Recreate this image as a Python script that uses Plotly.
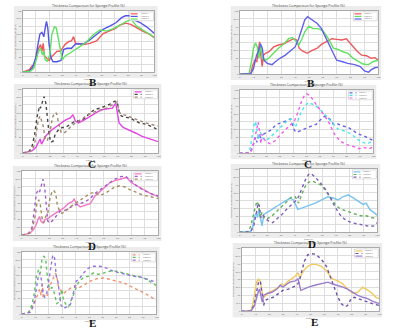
import plotly.graph_objects as go

W, H = 407, 330

# ---------------- DATA (x: % of time axis, y: % of thickness axis) ----------------
# Row B, left
bl_red_x = [0,5,7,8.5,10.5,12,13.5,14.5,15.5,16.5,18,20,21,23.5,26,28.6,32,35,37,38.6,40,42,46,51,56,61,66,70,74,78,82,86,91,96,100]
bl_red_y = [0,4,10,12,28,39,45,34,47,26,23,19,23,28,34,34,45,50,51,58,47,47,45,47,51,63,68,71,77,80,78,73,67,62,56]
bl_blue_x = [0,4.8,7.3,9.8,11.5,13,14.5,16,17,18,19,20,21.5,23,26,29,31,33.6,37,40,43.6,47,51,56,61,66,71,75,78,81,85,89,94,100]
bl_blue_y = [0,1.6,7,23,45,62,65,58,72,83,72,45,23,17,17,19,37,39,39,46,46,47,53,61,70,75,81,89,92,92,85,81,74,63]
bl_green_x = [0,6,8.5,10.5,12,13.5,15,16,17,18.5,20.5,22,24,25.5,27,28.5,30,32,36,40,43.6,48.6,53.6,58.6,63.7,68.7,74,78,82.5,86,91,96,100]
bl_green_y = [0,1.6,7,23,34,39,28,34,20,18,28,61,74,72,55,37,20,26,31,37,42,50,61,69,67,71,77,82,86,76,69,62,57]

# Row B, right
br_red_x = [0,8,9.6,11,12.4,13.4,14.4,15.3,16.3,17.2,18.7,21,24.6,28,32,35.4,39,41,43,45,48.6,52,56,59,63,66.5,70,73.7,77,81,84.4,88,91.6,95,97.6,100]
br_red_y = [0,1,15,22,20,41,51,30,12,30,33,35,43,46,48,52,56,54,41,37,33,37,41,47,52,56,55,54,56,46,37,30,29,25,26,22]
br_green_x = [0,6.7,8.6,10,11.5,12.7,13.9,15,16.3,18.7,21,24.6,28,32,35.4,38,40.7,42.6,45,47,50,53,56.6,60,64,67.7,71,75,78,82,85.6,89,93,96.4,100]
br_green_y = [0,0.5,20,41,49,43,25,46,25,22,25,33,41,48,56,58,52,46,56,67,76,72,72,69,56,41,39,35,33,25,20,16,15,20,22]
br_blue_x = [0,8,10,12.2,13.9,15,16.3,17.5,19.9,23.4,26,29,33,36.6,40,42.6,45,47,49,52,56,59,63,66.5,70,73.7,78,83,87,90,93,95,97.6,100]
br_blue_y = [0,0.5,9,30,38,48,41,22,17,15,20,25,30,36,43,56,72,86,91,86,80,72,54,38,22,20,17,15,12,5,3,7,10,11]

# Row C, left
cl_mag_x = [0,3.6,7,9.7,11.4,12.8,13.8,15.3,17,20.6,24,27.8,31,35,37,38.7,41,44.8,48.4,52,55.7,59,63,66,68.5,69.5,71,74,78.7,83.5,88,93,98,100]
cl_mag_y = [0,1.5,4,9,17,22,14,20,27,35,40,45,51,55,60,50,47,51,56,61,65,68,69,70,78,65,47,40,36,31,26,22,19,18]
cl_dark_x = [0,4.8,7,8.8,10.4,11.4,12.3,13,14.5,15.7,17,18,19.4,20.6,22.5,24,26.6,29,31.5,35,38.7,42.4,46,49.6,53,56.9,60.5,64,67.8,69.5,71,72.6,75,78.7,82.3,86,90.8,95.6,100]
cl_dark_y = [0,3,12,30,55,68,73,70,81,88,78,55,30,17,19,30,37,40,40,45,50,50,55,63,68,70,73,76,81,80,65,58,56,55,51,47,45,41,36]
cl_brown_x = [0,6,8.5,10.4,11.6,12.8,14,15.3,16.2,18,20,21.8,23.5,24.9,26.6,28.3,30,32.7,36,40,43.6,47,50.8,54.5,58,61.7,65,67.8,69.5,71,72.6,76,79.7,83.5,88,94,100]
cl_brown_y = [0,3,12,35,53,58,50,40,24,19,32,55,63,62,45,32,31,35,43,48,53,58,63,65,68,70,74,77,80,65,60,59,56,52,49,45,42]

# Row C, right
cr_blue_x = [0,8,9.4,10.6,11.9,13,14.3,15.6,16.8,18,20.5,23,25.4,27.9,31.6,35.3,37.8,39,41,42.7,46.4,50,53.8,57.5,61,64,66,68.6,69.9,71,73.6,77,81,84.7,88,92,95.8,100]
cr_blue_y = [0,1,9,17,25,17,30,25,28,30,33,36,41,46,48,52,54,48,36,33,36,39,42,46,54,59,56,52,46,46,46,43,41,36,31,28,24,20]
cr_cyan_x = [0,7,8,9.4,10.6,11.9,13,14.3,15.6,16.8,19.3,21.7,25.4,29,32.8,36,38.5,40,41.7,44,46.4,49,51.4,55,58.8,62.5,66,70,73.6,77,81,84.7,88,92,95.8,100]
cr_cyan_y = [0,1,9,28,43,50,36,22,33,25,20,23,30,38,46,52,54,48,41,54,67,75,80,77,72,64,56,46,38,36,33,28,22,17,15,20]
cr_mag_x = [0,8,9.9,11.4,12.6,13.8,14.8,15.8,16.8,18.3,20.5,23,26.7,30,34,37.8,41,43.5,46,48.4,50,52.6,56,60,63.7,67.4,71,74.8,78.5,82,86,89.6,93,97,100]
cr_mag_y = [0,1,9,22,36,49,36,15,30,22,17,15,20,28,36,43,51,64,80,91,94,91,80,69,59,46,30,20,15,12,10,7,9,7,10]

# Row D, left
dl_pink_x = [0,6,8.7,10.7,12,13,14,15.5,17,19.7,23,27,30.6,34,36.9,38.3,40,42.7,46.4,50,53.6,57,61,64.6,68,72,76.7,80,84,89,94,100]
dl_pink_y = [0,3,9,17,25,29,22,19,24,27,32,37,42,49,52,56,49,44,47,49,61,67,75,82,85,87,90,82,77,70,65,60]
dl_purple_x = [0,5,7.5,9,10.7,12,13,14,15.5,16.7,18,19,21,23,25.7,28,31.8,35,39,42.7,46.4,50,53.6,57,61,64.6,68,72,75.5,79,84,89,94,100]
dl_purple_y = [0,3,12,34,65,70,67,75,87,75,39,22,19,24,32,37,39,42,47,49,52,57,65,70,77,82,87,91,92,87,77,70,65,61]
dl_olive_x = [0,6,8,10,11,12.4,13.6,14.8,16,17.5,19,20.4,22,23.3,24.8,26,27.7,29.4,31.8,35.4,39,42.7,46.4,50,53.6,57,61,64.6,68,72,75.5,79,84,89,94,100]
dl_olive_y = [0,3,12,32,49,55,47,27,19,29,34,55,67,70,65,47,37,34,37,44,49,54,59,65,67,62,65,70,75,77,75,71,67,62,60,57]

# Row D, right
dr_lblue_x = [0,8,9.6,11,12,13,13.9,15,16.3,17.5,20,23.6,27,30.8,34,36.8,39,41,42.3,45,50,55,59.6,64,68,71.6,75,78.8,82,86,89.7,92,94.5,97.6,100]
dr_lblue_y = [0,1,10,26,30,23,36,23,10,28,31,36,41,46,49,54,51,41,36,38,42,46,51,56,54,51,56,59,55,49,44,46,36,31,27]
dr_green_x = [0,6.7,8.7,10.3,11.5,12.7,14,15,16.3,17.8,20,23.6,27,30.8,34,38,40.4,42.8,45,47.6,50,52.4,56,59.6,63,67,70.4,74,77.6,81,85,88,92,95.7,100]
dr_green_y = [0,1,15,31,41,49,41,23,31,22,21,26,33,41,49,56,56,46,59,72,79,81,78,74,64,51,41,36,33,31,28,26,26,23,22]
dr_purple_x = [0,8,10.3,12,13.5,14.4,15.4,16.8,18.8,21,24,27,30.8,34,38,40.4,42.8,45,47.6,50,51.9,54.8,58.4,62,65.6,69,72.8,76,81,86,91,94.5,97.6,100]
dr_purple_y = [0,0.5,10,31,46,41,23,28,21,18,15,21,28,36,44,49,56,69,82,91,93,87,79,69,56,41,28,21,15,13,10,9,10,15]

# Row E, left
el_salmon_x = [0,5,8.9,10.8,12.3,13.3,14.3,15.3,16,17.7,19,21,23,25,26,27,28.6,30.5,32,34.7,37,40,43,47,50.7,55.7,60.6,65.5,70,75,80,85,90,95,100]
el_salmon_y = [0,3,15,25,33,40,30,48,25,33,30,46,56,66,61,46,40,33,35,40,43,46,43,48,53,57,58,56,53,51,46,40,35,29,22]
el_green_x = [0,5,7.6,9.4,10.8,12.6,13.8,15,16.3,17.7,18.7,20,21,22.4,23.6,25,26,28,29.8,31,33,34.7,37,39.7,42,45.8,49.5,53,57,60.6,65.5,70,75,80,85,90,95,100]
el_green_y = [0,3,15,35,61,72,66,88,93,90,66,46,40,43,38,22,17,20,40,22,15,12,25,40,51,59,61,66,64,66,69,69,66,64,61,59,53,46]
el_purple_x = [0,6.4,8.9,10.8,12.3,13.3,14.5,15.8,17,18.7,20.7,22,23,24.4,25.6,26.6,27.6,29,31,33.5,36,38.4,40.4,42.4,45.8,49.5,53,58,63,68,72.9,77.8,82.8,87.7,92.6,100]
el_purple_y = [0,3,15,40,61,66,56,33,27,35,66,88,95,90,61,56,40,15,9,12,15,35,53,56,66,74,77,77,74,69,66,64,61,60,56,51]

# Row E, right
er_yellow_x = [0,6.5,8,9.6,10.8,12.5,13.7,14.9,16,17.7,19.7,23,27,29,31,34,37.6,40,41,42.4,45,48,51,54,58,61.6,64,66,70,73.6,77,81,84.4,88,90.4,94,97.6,100]
er_yellow_y = [0,0.5,9,30,46,51,46,30,22,25,30,33,38,43,41,48,53,58,61,53,64,71,74,74,71,64,56,51,48,43,35,28,30,38,35,30,22,20]
er_purple_x = [0,6.5,8.9,10.8,12.5,13.7,15,16,17,19.7,23,27,30,34,37.6,40,41.7,43.6,45.6,48,51,54,58,61.6,65,67.6,70,72.4,75,77,79.6,82,84.4,88,91.6,95,100]
er_purple_y = [0,0.5,9,30,48,46,22,9,17,20,22,28,33,35,38,41,46,61,79,89,91,90,82,71,51,35,22,12,7,9,20,22,20,17,15,12,9]
er_lpurple_x = [0,7,9.4,10.8,12,13,13.9,14.9,16,18.5,22,25.7,28,30,33,35,39,41,43,45,48.6,53,58,62.8,66,70,73.6,77,81,84.4,88,91.6,95,100]
er_lpurple_y = [0,0.5,9,22,30,35,25,15,25,28,30,35,41,38,43,46,48,51,33,35,38,41,43,46,43,41,38,35,30,25,22,20,16,12]

TITLE = "Thickness Comparison for Sponge Profile (%)"
Y_TITLE = "Thickness Measurement (mm)"
X_TITLE = "Time (s)"

# ---------------- LAYOUT of panels (pixels: x0, x1, y0, y1 of plot area) ----------------
panels = [
    dict(box=(22, 155, 9, 71), label="B", series=[
        (bl_red_x, bl_red_y, "rgb(238,88,92)", "solid", "Profile 1"),
        (bl_blue_x, bl_blue_y, "rgb(84,84,232)", "solid", "Profile 2"),
        (bl_green_x, bl_green_y, "rgb(96,226,96)", "solid", "Profile 3")]),
    dict(box=(241, 381, 9, 73), label="B", series=[
        (br_red_x, br_red_y, "rgb(238,88,92)", "solid", "Profile 1"),
        (br_green_x, br_green_y, "rgb(96,226,96)", "solid", "Profile 2"),
        (br_blue_x, br_blue_y, "rgb(96,96,236)", "solid", "Profile 3")]),
    dict(box=(22, 159, 88, 153), label="C", series=[
        (cl_mag_x, cl_mag_y, "rgb(226,70,226)", "solid", "Profile 1"),
        (cl_dark_x, cl_dark_y, "rgb(70,70,70)", "dot", "Profile 2"),
        (cl_brown_x, cl_brown_y, "rgb(165,135,115)", "dot", "Profile 3")]),
    dict(box=(241, 376, 89, 153), label="C", series=[
        (cr_blue_x, cr_blue_y, "rgb(100,100,236)", "dot", "Profile 1"),
        (cr_cyan_x, cr_cyan_y, "rgb(70,230,230)", "dot", "Profile 2"),
        (cr_mag_x, cr_mag_y, "rgb(244,90,240)", "dot", "Profile 3")]),
    dict(box=(21, 159, 171, 236), label="D", series=[
        (dl_pink_x, dl_pink_y, "rgb(242,120,200)", "solid", "Profile 1"),
        (dl_purple_x, dl_purple_y, "rgb(165,95,205)", "dot", "Profile 2"),
        (dl_olive_x, dl_olive_y, "rgb(165,140,95)", "dot", "Profile 3")]),
    dict(box=(241, 380, 169, 233), label="D", series=[
        (dr_lblue_x, dr_lblue_y, "rgb(120,195,240)", "solid", "Profile 1"),
        (dr_green_x, dr_green_y, "rgb(100,175,90)", "dot", "Profile 2"),
        (dr_purple_x, dr_purple_y, "rgb(125,95,185)", "dot", "Profile 3")]),
    dict(box=(21, 157, 253, 316), label="E", series=[
        (el_salmon_x, el_salmon_y, "rgb(242,145,115)", "dot", "Profile 1"),
        (el_green_x, el_green_y, "rgb(95,195,95)", "dot", "Profile 2"),
        (el_purple_x, el_purple_y, "rgb(150,115,225)", "dot", "Profile 3")]),
    dict(box=(243, 382, 249, 313), label="E", series=[
        (er_yellow_x, er_yellow_y, "rgb(242,200,95)", "solid", "Profile 1"),
        (er_purple_x, er_purple_y, "rgb(110,80,170)", "dot", "Profile 2"),
        (er_lpurple_x, er_lpurple_y, "rgb(155,125,205)", "solid", "Profile 3")]),
]
label_pos = [(93, 81), (313, 82), (92, 164), (310, 164), (92, 246.5), (314, 244.5), (92, 325), (317, 324)]

def px(x):
    return x / W

def py(y):
    return 1 - y / H

GREY = "rgb(236,236,236)"

fig = go.Figure()
shapes = []
annotations = []
layout_axes = {}

def grey_rect(a0, a1, b0, b1):
    shapes.append(dict(type="rect", xref="paper", yref="paper", layer="below",
                       x0=px(a0), x1=px(a1), y0=py(b1), y1=py(b0),
                       fillcolor=GREY, line=dict(width=0)))

for i, p in enumerate(panels):
    n = i + 1
    xs = "" if n == 1 else str(n)
    x0, x1, y0, y1 = p["box"]
    # grey frame around each chart (four strips, leaving plot area white)
    fx0, fx1, fy0, fy1 = x0 - 9, x1 + 3, y0 - 5, y1 + 6
    grey_rect(fx0, fx1, fy0, y0)      # top
    grey_rect(fx0, fx1, y1, fy1)      # bottom
    grey_rect(fx0, x0, y0, y1)        # left
    grey_rect(x1, fx1, y0, y1)        # right
    for (sx, sy, col, dash, name) in p["series"]:
        fig.add_trace(go.Scatter(x=sx, y=sy, mode="lines", name=name,
                                 line=dict(color=col, width=1.4, dash=dash),
                                 xaxis="x" + xs, yaxis="y" + xs, showlegend=False))
    layout_axes["xaxis" + xs] = dict(domain=[px(x0), px(x1)], anchor="y" + xs, range=[0, 100],
                                     dtick=10, tickfont=dict(size=2.5, color="#666"),
                                     showgrid=True, gridcolor="rgb(222,222,222)", gridwidth=0.5,
                                     zeroline=False, showline=True, linecolor="rgb(170,170,170)",
                                     linewidth=0.5, mirror=True, ticks="", ticklen=0,
                                     title=dict(text=X_TITLE, font=dict(size=2.5, color="#666"), standoff=0))
    layout_axes["yaxis" + xs] = dict(domain=[py(y1), py(y0)], anchor="x" + xs, range=[0, 100],
                                     dtick=12.5, tickfont=dict(size=2.5, color="#666"),
                                     showgrid=True, gridcolor="rgb(222,222,222)", gridwidth=0.5,
                                     zeroline=False, showline=True, linecolor="rgb(170,170,170)",
                                     linewidth=0.5, mirror=True, ticks="", ticklen=0,
                                     title=dict(text=Y_TITLE, font=dict(size=2.5, color="#666"), standoff=0))
    # panel title
    annotations.append(dict(text=TITLE, xref="paper", yref="paper", x=px((x0 + x1) / 2), y=py(y0 - 0.5),
                            xanchor="center", yanchor="bottom", showarrow=False,
                            font=dict(size=3.5, color="#444")))
    # legend box (top-right inside plot)
    lx1 = x1 - 1
    lx0 = lx1 - 24
    ly0 = y0 + 1
    ly1 = ly0 + 9
    shapes.append(dict(type="rect", xref="paper", yref="paper", x0=px(lx0), x1=px(lx1),
                       y0=py(ly1), y1=py(ly0), fillcolor="white",
                       line=dict(color="rgb(190,190,190)", width=0.5)))
    for k, (sx, sy, col, dash, name) in enumerate(p["series"]):
        yy = ly0 + 2 + k * 2.6
        shapes.append(dict(type="line", xref="paper", yref="paper", x0=px(lx0 + 1), x1=px(lx0 + 8),
                           y0=py(yy), y1=py(yy), line=dict(color=col, width=1.2, dash=dash)))
        annotations.append(dict(text=name, xref="paper", yref="paper", x=px(lx0 + 9), y=py(yy),
                                xanchor="left", yanchor="middle", showarrow=False,
                                font=dict(size=2, color="#666")))
    lx, ly = label_pos[i]
    annotations.append(dict(text="<b>" + p["label"] + "</b>", xref="paper", yref="paper",
                            x=px(lx), y=py(ly), xanchor="center", yanchor="middle", showarrow=False,
                            font=dict(size=11, color="#111", family="Liberation Serif")))

fig.update_layout(width=W, height=H, margin=dict(l=0, r=0, t=0, b=0),
                  paper_bgcolor="white", plot_bgcolor="white",
                  shapes=shapes, annotations=annotations, showlegend=False,
                  **layout_axes)

fig.write_html("out.html")
